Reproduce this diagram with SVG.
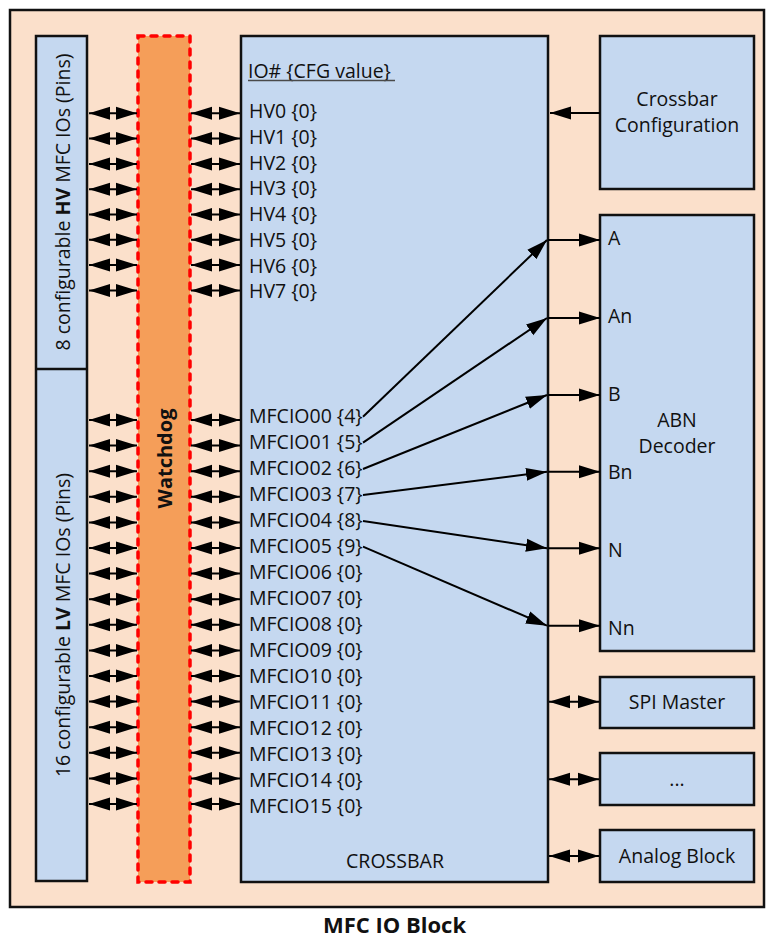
<svg xmlns="http://www.w3.org/2000/svg" width="767" height="941" viewBox="0 0 767 941">
<defs>
<style>
.box{fill:#C5D8F0;stroke:#111;stroke-width:2.5}
.t{font-family:"Open Sans","Liberation Sans",Arial,sans-serif;font-size:19.5px;fill:#111}
.b{font-weight:bold}
.c{text-anchor:middle}
.ln{stroke:#000;stroke-width:2;fill:none}
.end{marker-end:url(#ah)}
.dbl{marker-start:url(#ah);marker-end:url(#ah)}
</style>
<marker id="ah" markerUnits="userSpaceOnUse" markerWidth="21" markerHeight="14" refX="21" refY="7" orient="auto-start-reverse">
<path d="M0,0.5 L21,7 L0,13.5 Z" fill="#000"/>
</marker>
</defs>
<rect id="outer" x="10" y="10" width="754" height="897" fill="#FBE0CB" stroke="#111" stroke-width="2.5"/>

<g id="pins">
<rect class="box" x="36" y="36" width="51" height="845"/>
<line x1="36" y1="369" x2="87" y2="369" stroke="#111" stroke-width="2.5"/>
<text class="t c" transform="translate(70,202) rotate(-90)">8 configurable <tspan class="b">HV</tspan> MFC IOs (Pins)</text>
<text class="t c" transform="translate(70,625) rotate(-90)">16 configurable <tspan class="b">LV</tspan> MFC IOs (Pins)</text>
</g>

<g id="watchdog">
<rect x="138" y="36" width="52" height="846" fill="#F59E59" stroke="#FF0000" stroke-width="3.5" stroke-dasharray="6 7" stroke-linecap="round"/>
<text class="t b c" style="font-size:20px" transform="translate(171.5,458.5) rotate(-90)">Watchdog</text>
</g>

<g id="crossbar">
<rect class="box" x="241" y="36" width="307" height="846"/>
<text class="t" x="248" y="78">IO# {CFG value}</text>
<line x1="248" y1="80.5" x2="395" y2="80.5" stroke="#4a4a4a" stroke-width="1.5"/>
<text class="t" x="249" y="118.3">HV0 {0}</text>
<text class="t" x="249" y="144">HV1 {0}</text>
<text class="t" x="249" y="169.7">HV2 {0}</text>
<text class="t" x="249" y="195.4">HV3 {0}</text>
<text class="t" x="249" y="221.1">HV4 {0}</text>
<text class="t" x="249" y="246.8">HV5 {0}</text>
<text class="t" x="249" y="272.5">HV6 {0}</text>
<text class="t" x="249" y="298.2">HV7 {0}</text>
<text class="t" x="249" y="423">MFCIO00 {4}</text>
<text class="t" x="249" y="449">MFCIO01 {5}</text>
<text class="t" x="249" y="475">MFCIO02 {6}</text>
<text class="t" x="249" y="501">MFCIO03 {7}</text>
<text class="t" x="249" y="527">MFCIO04 {8}</text>
<text class="t" x="249" y="553">MFCIO05 {9}</text>
<text class="t" x="249" y="579">MFCIO06 {0}</text>
<text class="t" x="249" y="605">MFCIO07 {0}</text>
<text class="t" x="249" y="631">MFCIO08 {0}</text>
<text class="t" x="249" y="657">MFCIO09 {0}</text>
<text class="t" x="249" y="683">MFCIO10 {0}</text>
<text class="t" x="249" y="709">MFCIO11 {0}</text>
<text class="t" x="249" y="735">MFCIO12 {0}</text>
<text class="t" x="249" y="761">MFCIO13 {0}</text>
<text class="t" x="249" y="787">MFCIO14 {0}</text>
<text class="t" x="249" y="813">MFCIO15 {0}</text>
<text class="t c" x="395" y="868">CROSSBAR</text>
</g>

<g id="crossbar-config">
<rect class="box" x="600" y="36" width="154" height="153"/>
<text class="t c" x="677" y="106">Crossbar</text>
<text class="t c" x="677" y="132">Configuration</text>
</g>

<g id="abn-decoder">
<rect class="box" x="600" y="215" width="154" height="436"/>
<text class="t c" x="677" y="427">ABN</text>
<text class="t c" x="677" y="453">Decoder</text>
<text class="t" x="608" y="245">A</text>
<text class="t" x="608" y="323">An</text>
<text class="t" x="608" y="401">B</text>
<text class="t" x="608" y="479">Bn</text>
<text class="t" x="608" y="557">N</text>
<text class="t" x="608" y="635">Nn</text>
</g>

<g id="spi-master">
<rect class="box" x="600" y="677" width="154" height="51"/>
<text class="t c" x="677" y="709">SPI Master</text>
</g>

<g id="other">
<rect class="box" x="600" y="753" width="154" height="52"/>
<text class="t c" x="677" y="786">...</text>
</g>

<g id="analog-block">
<rect class="box" x="600" y="830" width="154" height="52"/>
<text class="t c" x="677" y="863">Analog Block</text>
</g>

<g id="connectors">
<line class="ln dbl" x1="89" y1="113.3" x2="137" y2="113.3"/>
<line class="ln dbl" x1="89" y1="138.6" x2="137" y2="138.6"/>
<line class="ln dbl" x1="89" y1="163.9" x2="137" y2="163.9"/>
<line class="ln dbl" x1="89" y1="189.2" x2="137" y2="189.2"/>
<line class="ln dbl" x1="89" y1="214.5" x2="137" y2="214.5"/>
<line class="ln dbl" x1="89" y1="239.8" x2="137" y2="239.8"/>
<line class="ln dbl" x1="89" y1="265.1" x2="137" y2="265.1"/>
<line class="ln dbl" x1="89" y1="290.4" x2="137" y2="290.4"/>
<line class="ln dbl" x1="191" y1="113.3" x2="240" y2="113.3"/>
<line class="ln dbl" x1="191" y1="138.6" x2="240" y2="138.6"/>
<line class="ln dbl" x1="191" y1="163.9" x2="240" y2="163.9"/>
<line class="ln dbl" x1="191" y1="189.2" x2="240" y2="189.2"/>
<line class="ln dbl" x1="191" y1="214.5" x2="240" y2="214.5"/>
<line class="ln dbl" x1="191" y1="239.8" x2="240" y2="239.8"/>
<line class="ln dbl" x1="191" y1="265.1" x2="240" y2="265.1"/>
<line class="ln dbl" x1="191" y1="290.4" x2="240" y2="290.4"/>

<line class="ln dbl" x1="89" y1="420" x2="137" y2="420"/>
<line class="ln dbl" x1="89" y1="445.6" x2="137" y2="445.6"/>
<line class="ln dbl" x1="89" y1="471.2" x2="137" y2="471.2"/>
<line class="ln dbl" x1="89" y1="496.8" x2="137" y2="496.8"/>
<line class="ln dbl" x1="89" y1="522.4" x2="137" y2="522.4"/>
<line class="ln dbl" x1="89" y1="548" x2="137" y2="548"/>
<line class="ln dbl" x1="89" y1="573.6" x2="137" y2="573.6"/>
<line class="ln dbl" x1="89" y1="599.2" x2="137" y2="599.2"/>
<line class="ln dbl" x1="89" y1="624.8" x2="137" y2="624.8"/>
<line class="ln dbl" x1="89" y1="650.4" x2="137" y2="650.4"/>
<line class="ln dbl" x1="89" y1="676" x2="137" y2="676"/>
<line class="ln dbl" x1="89" y1="701.6" x2="137" y2="701.6"/>
<line class="ln dbl" x1="89" y1="727.2" x2="137" y2="727.2"/>
<line class="ln dbl" x1="89" y1="752.8" x2="137" y2="752.8"/>
<line class="ln dbl" x1="89" y1="778.4" x2="137" y2="778.4"/>
<line class="ln dbl" x1="89" y1="804" x2="137" y2="804"/>
<line class="ln dbl" x1="191" y1="420" x2="240" y2="420"/>
<line class="ln dbl" x1="191" y1="445.6" x2="240" y2="445.6"/>
<line class="ln dbl" x1="191" y1="471.2" x2="240" y2="471.2"/>
<line class="ln dbl" x1="191" y1="496.8" x2="240" y2="496.8"/>
<line class="ln dbl" x1="191" y1="522.4" x2="240" y2="522.4"/>
<line class="ln dbl" x1="191" y1="548" x2="240" y2="548"/>
<line class="ln dbl" x1="191" y1="573.6" x2="240" y2="573.6"/>
<line class="ln dbl" x1="191" y1="599.2" x2="240" y2="599.2"/>
<line class="ln dbl" x1="191" y1="624.8" x2="240" y2="624.8"/>
<line class="ln dbl" x1="191" y1="650.4" x2="240" y2="650.4"/>
<line class="ln dbl" x1="191" y1="676" x2="240" y2="676"/>
<line class="ln dbl" x1="191" y1="701.6" x2="240" y2="701.6"/>
<line class="ln dbl" x1="191" y1="727.2" x2="240" y2="727.2"/>
<line class="ln dbl" x1="191" y1="752.8" x2="240" y2="752.8"/>
<line class="ln dbl" x1="191" y1="778.4" x2="240" y2="778.4"/>
<line class="ln dbl" x1="191" y1="804" x2="240" y2="804"/>

<line class="ln end" x1="600" y1="113" x2="550" y2="113"/>

<line class="ln end" x1="363" y1="416.7" x2="547" y2="240"/>
<line class="ln end" x1="363" y1="442.7" x2="547" y2="318"/>
<line class="ln end" x1="363" y1="469" x2="547" y2="395"/>
<line class="ln end" x1="363" y1="495" x2="547" y2="471.7"/>
<line class="ln end" x1="363" y1="521" x2="547" y2="548.3"/>
<line class="ln end" x1="363" y1="546.7" x2="547" y2="625.7"/>

<line class="ln end" x1="548" y1="240" x2="600" y2="240"/>
<line class="ln end" x1="548" y1="318" x2="600" y2="318"/>
<line class="ln end" x1="548" y1="395" x2="600" y2="395"/>
<line class="ln end" x1="548" y1="471.7" x2="600" y2="471.7"/>
<line class="ln end" x1="548" y1="548.3" x2="600" y2="548.3"/>
<line class="ln end" x1="548" y1="625.7" x2="600" y2="625.7"/>

<line class="ln dbl" x1="549" y1="701.7" x2="599" y2="701.7"/>
<line class="ln dbl" x1="549" y1="779.3" x2="599" y2="779.3"/>
<line class="ln dbl" x1="549" y1="856" x2="599" y2="856"/>
</g>

<text class="t b c" style="font-size:22px" x="394.5" y="933">MFC IO Block</text>
</svg>
